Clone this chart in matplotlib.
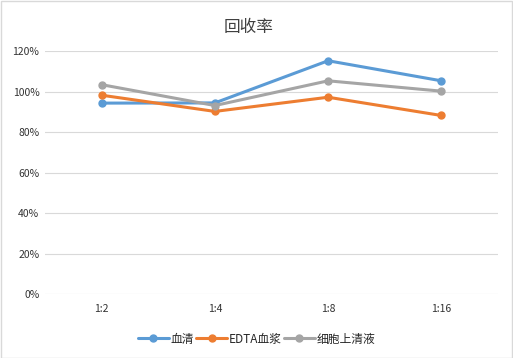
import numpy as np
import matplotlib
matplotlib.use('Agg')
import matplotlib.pyplot as plt
from matplotlib.ticker import PercentFormatter

plt.rcParams['font.family'] = ['Noto Sans CJK SC', 'DejaVu Sans']

# Data
categories = ['1:2', '1:4', '1:8', '1:16']
serum = [0.943, 0.944, 1.152, 1.053]
edta_plasma = [0.982, 0.902, 0.972, 0.882]
cell_supernatant = [1.034, 0.931, 1.053, 1.002]
series_names = ['血清', 'EDTA血浆', '细胞上清液']
colors = ['#5B9BD5', '#ED7D31', '#A5A5A5']

fig = plt.figure(figsize=(5.13, 3.58), dpi=100)
fig.patch.set_facecolor('white')
ax = fig.add_axes([0.0877, 0.178, 0.883, 0.6795])

x = np.arange(len(categories))
for vals, name, c in zip([serum, edta_plasma, cell_supernatant], series_names, colors):
    ax.plot(x, vals, color=c, linewidth=2.2, marker='o', markersize=5, label=name,
            solid_capstyle='round')

ax.set_xlim(-0.5, len(categories) - 0.5)
ax.set_ylim(0, 1.2)
ax.set_yticks(np.arange(0, 1.21, 0.2))
ax.yaxis.set_major_formatter(PercentFormatter(1.0, decimals=0))
ax.set_xticks(x)
ax.set_xticklabels(categories)
ax.tick_params(axis='both', length=0, labelsize=7.5, colors='#333333', pad=7)
ax.tick_params(axis='y', pad=4)
ax.grid(axis='y', color='#D9D9D9', linewidth=0.8)
ax.set_axisbelow(True)
for s in ax.spines.values():
    s.set_visible(False)

fig.text(0.484, 0.922, '回收率', ha='center', va='center', fontsize=12, color='#404040')

leg = fig.legend(loc='center', bbox_to_anchor=(0.5, 0.053), ncol=3, frameon=False,
                 fontsize=8.5, handlelength=2.6, handletextpad=0.15, columnspacing=0.2)
for t in leg.get_texts():
    t.set_color('#262626')

# outer frame
fig.add_artist(plt.Rectangle((0.001, 0.001), 0.997, 0.997, transform=fig.transFigure,
                             fill=False, edgecolor='#D9D9D9', linewidth=1))

plt.savefig('out.png', dpi=100, facecolor='white')
plt.close()
